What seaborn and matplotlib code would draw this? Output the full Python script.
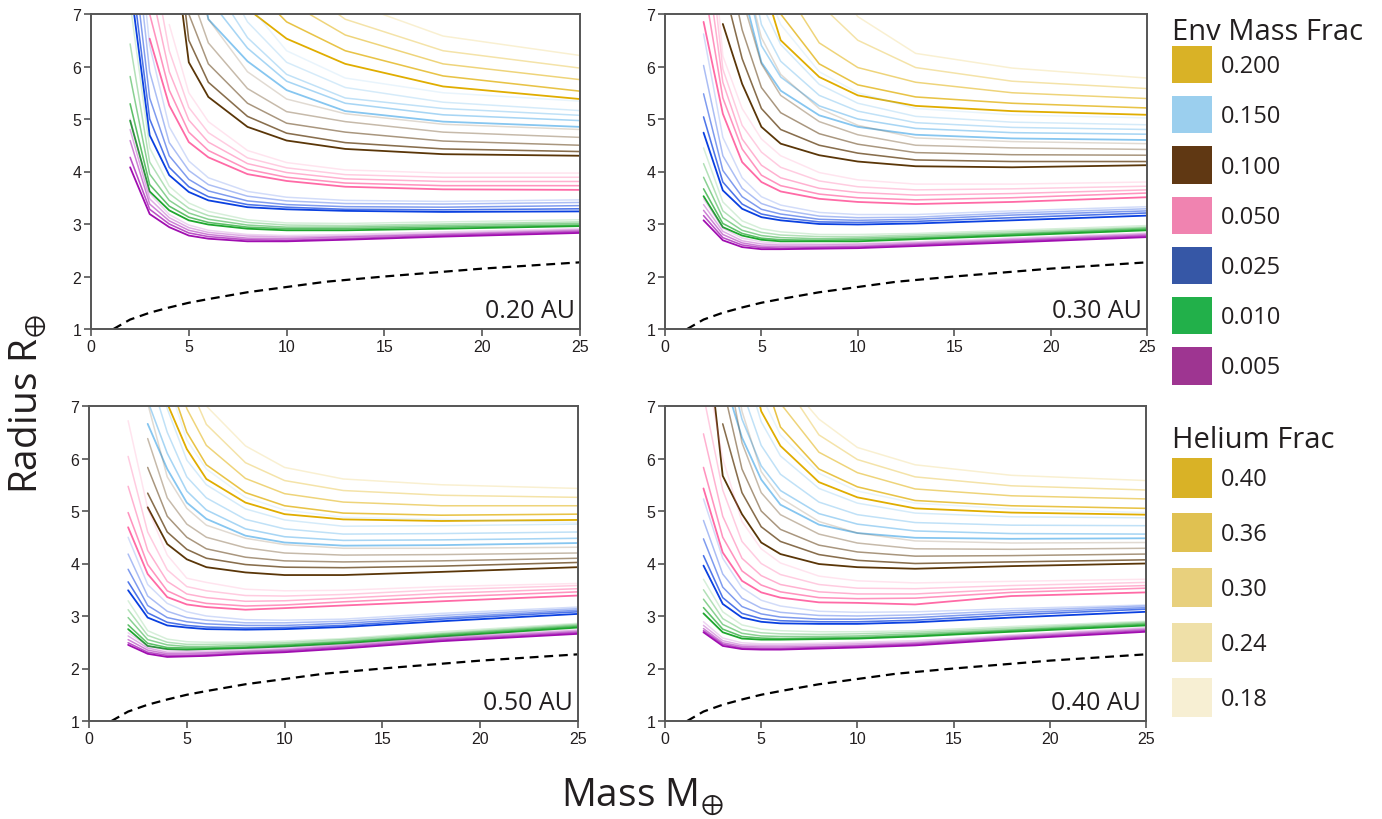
import numpy as np
import pandas as pd
import matplotlib
matplotlib.use('Agg')
import matplotlib.pyplot as plt
from matplotlib.patches import Patch
import seaborn as sns

nan = np.nan

# mass grid (Earth masses) the curves are read at
masses = [2, 3, 4, 5, 6, 8, 10, 13, 18, 25]
helium_fracs = ['0.40', '0.36', '0.30', '0.24', '0.18']
env_fracs = ['0.200', '0.150', '0.100', '0.050', '0.025', '0.010', '0.005']

# bare rocky core (dashed)
core_mass = [1.15, 2, 3, 4, 5, 6, 8, 10, 12, 15, 20, 25]
core_radius = [1.0, 1.18, 1.31, 1.41, 1.50, 1.57, 1.70, 1.80, 1.90, 2.0, 2.15, 2.27]

# ---- 0.20 AU : rows are helium 0.40, 0.36, 0.30, 0.24, 0.18 ----
r20_e200 = [[nan, nan, nan, nan, 8.6, 7.1, 6.53, 6.05, 5.62, 5.38],
            [nan, nan, nan, nan, 9.2, 7.6, 6.85, 6.3, 5.82, 5.53],
            [nan, nan, nan, nan, nan, 8.1, 7.25, 6.6, 6.05, 5.75],
            [nan, nan, nan, nan, nan, 8.7, 7.7, 6.9, 6.3, 5.97],
            [nan, nan, nan, nan, nan, nan, 8.2, 7.25, 6.58, 6.21]]
r20_e150 = [[nan, nan, nan, 9.0, 6.9, 6.1, 5.55, 5.15, 4.95, 4.85],
            [nan, nan, nan, 9.6, 7.3, 6.35, 5.72, 5.3, 5.08, 4.97],
            [nan, nan, nan, nan, 7.7, 6.55, 5.85, 5.4, 5.2, 5.07],
            [nan, nan, nan, nan, 8.2, 6.85, 6.08, 5.6, 5.32, 5.16],
            [nan, nan, nan, nan, 8.8, 7.2, 6.3, 5.78, 5.5, 5.34]]
r20_e100 = [[nan, nan, 9.0, 6.08, 5.42, 4.85, 4.59, 4.43, 4.33, 4.30],
            [nan, nan, 9.6, 6.5, 5.7, 5.05, 4.73, 4.55, 4.43, 4.38],
            [nan, nan, 10.3, 7.0, 6.05, 5.3, 4.92, 4.75, 4.58, 4.50],
            [nan, nan, nan, 7.5, 6.45, 5.58, 5.14, 4.95, 4.75, 4.65],
            [nan, nan, nan, 8.1, 6.9, 5.9, 5.38, 5.1, 4.9, 4.80]]
r20_e050 = [[nan, 6.53, 5.26, 4.56, 4.27, 3.95, 3.82, 3.71, 3.66, 3.65],
            [nan, 7.0, 5.55, 4.75, 4.40, 4.04, 3.89, 3.78, 3.73, 3.73],
            [nan, 7.6, 5.9, 4.98, 4.56, 4.15, 3.98, 3.86, 3.81, 3.81],
            [nan, 8.3, 6.3, 5.22, 4.74, 4.26, 4.07, 3.94, 3.89, 3.89],
            [nan, nan, 6.8, 5.5, 4.95, 4.4, 4.17, 4.03, 3.97, 3.97]]
r20_e025 = [[7.6, 4.69, 3.93, 3.61, 3.45, 3.32, 3.28, 3.25, 3.23, 3.24],
            [8.0, 5.0, 4.08, 3.71, 3.52, 3.37, 3.32, 3.28, 3.27, 3.29],
            [8.6, 5.4, 4.3, 3.85, 3.63, 3.44, 3.37, 3.33, 3.32, 3.35],
            [9.3, 5.9, 4.55, 4.02, 3.75, 3.53, 3.44, 3.39, 3.38, 3.41],
            [10.0, 6.4, 4.85, 4.2, 3.88, 3.62, 3.51, 3.45, 3.43, 3.46]]
r20_e010 = [[4.97, 3.62, 3.26, 3.07, 2.99, 2.91, 2.88, 2.88, 2.91, 2.96],
            [5.29, 3.75, 3.34, 3.13, 3.03, 2.94, 2.91, 2.91, 2.94, 2.98],
            [5.81, 3.95, 3.45, 3.21, 3.09, 2.98, 2.94, 2.94, 2.97, 3.01],
            [6.43, 4.18, 3.58, 3.30, 3.16, 3.03, 2.98, 2.97, 3.00, 3.04],
            [7.2, 4.45, 3.72, 3.40, 3.24, 3.08, 3.02, 3.01, 3.04, 3.08]]
r20_e005 = [[4.08, 3.19, 2.94, 2.78, 2.72, 2.67, 2.67, 2.70, 2.76, 2.83],
            [4.27, 3.28, 3.00, 2.83, 2.76, 2.70, 2.69, 2.72, 2.78, 2.85],
            [4.59, 3.38, 3.06, 2.88, 2.80, 2.73, 2.72, 2.75, 2.80, 2.87],
            [4.80, 3.48, 3.12, 2.93, 2.84, 2.77, 2.75, 2.77, 2.82, 2.89],
            [5.00, 3.58, 3.18, 2.98, 2.88, 2.80, 2.78, 2.80, 2.85, 2.91]]

# ---- 0.30 AU ----
r30_e200 = [[nan, nan, nan, 7.7, 6.5, 5.8, 5.45, 5.25, 5.15, 5.08],
            [nan, nan, nan, 8.3, 7.0, 6.05, 5.65, 5.42, 5.3, 5.21],
            [nan, nan, nan, nan, 7.6, 6.45, 5.98, 5.7, 5.5, 5.39],
            [nan, nan, nan, nan, nan, 7.2, 6.5, 5.98, 5.72, 5.58],
            [nan, nan, nan, nan, nan, 7.9, 6.95, 6.25, 5.97, 5.78]]
r30_e150 = [[nan, nan, 7.5, 6.08, 5.54, 5.07, 4.85, 4.7, 4.63, 4.6],
            [nan, nan, 8.0, 6.4, 5.8, 5.25, 5.0, 4.82, 4.74, 4.71],
            [nan, nan, 8.6, 6.8, 6.1, 5.45, 5.15, 4.93, 4.84, 4.8],
            [nan, nan, nan, 7.2, 6.42, 5.66, 5.3, 5.05, 4.94, 4.89],
            [nan, nan, nan, 7.7, 6.8, 5.9, 5.5, 5.2, 5.08, 5.02]]
r30_e100 = [[nan, 6.81, 5.67, 4.85, 4.53, 4.31, 4.19, 4.10, 4.08, 4.12],
            [nan, 7.6, 6.15, 5.2, 4.8, 4.5, 4.35, 4.22, 4.19, 4.19],
            [nan, 8.4, 6.7, 5.6, 5.12, 4.72, 4.52, 4.36, 4.32, 4.31],
            [nan, nan, 7.3, 6.05, 5.45, 4.95, 4.7, 4.5, 4.45, 4.42],
            [nan, nan, 8.0, 6.55, 5.85, 5.2, 4.88, 4.64, 4.57, 4.53]]
r30_e050 = [[6.85, 5.1, 4.18, 3.80, 3.62, 3.48, 3.42, 3.38, 3.42, 3.51],
            [7.6, 5.4, 4.43, 3.93, 3.73, 3.57, 3.50, 3.46, 3.50, 3.59],
            [8.4, 5.7, 4.62, 4.12, 3.88, 3.68, 3.60, 3.55, 3.58, 3.65],
            [9.3, 5.95, 4.88, 4.37, 4.08, 3.82, 3.71, 3.65, 3.67, 3.72],
            [10.3, 6.2, 5.2, 4.62, 4.30, 3.98, 3.84, 3.76, 3.76, 3.80]]
r30_e025 = [[4.74, 3.64, 3.29, 3.13, 3.07, 3.00, 2.99, 3.01, 3.07, 3.16],
            [5.04, 3.80, 3.38, 3.19, 3.12, 3.04, 3.03, 3.05, 3.12, 3.21],
            [5.48, 4.02, 3.52, 3.28, 3.19, 3.09, 3.07, 3.09, 3.17, 3.25],
            [6.02, 4.30, 3.68, 3.39, 3.27, 3.15, 3.12, 3.13, 3.21, 3.29],
            [6.62, 4.65, 3.88, 3.52, 3.36, 3.22, 3.18, 3.18, 3.25, 3.33]]
r30_e010 = [[3.53, 2.94, 2.78, 2.70, 2.67, 2.67, 2.67, 2.71, 2.78, 2.88],
            [3.67, 3.01, 2.82, 2.73, 2.70, 2.69, 2.70, 2.73, 2.80, 2.90],
            [3.89, 3.12, 2.88, 2.78, 2.74, 2.72, 2.73, 2.76, 2.82, 2.92],
            [4.15, 3.25, 2.96, 2.84, 2.79, 2.76, 2.76, 2.79, 2.85, 2.94],
            [4.45, 3.42, 3.06, 2.91, 2.85, 2.80, 2.80, 2.82, 2.88, 2.97]]
r30_e005 = [[3.07, 2.69, 2.56, 2.52, 2.52, 2.53, 2.54, 2.58, 2.65, 2.75],
            [3.16, 2.74, 2.60, 2.55, 2.54, 2.55, 2.56, 2.60, 2.67, 2.77],
            [3.26, 2.80, 2.64, 2.58, 2.57, 2.57, 2.58, 2.62, 2.69, 2.79],
            [3.37, 2.86, 2.68, 2.62, 2.60, 2.60, 2.61, 2.64, 2.71, 2.81],
            [3.48, 2.92, 2.73, 2.66, 2.63, 2.62, 2.63, 2.66, 2.73, 2.83]]

# ---- 0.50 AU ----
r50_e200 = [[nan, nan, 7.05, 6.18, 5.61, 5.16, 4.94, 4.84, 4.81, 4.83],
            [nan, nan, 7.6, 6.5, 5.88, 5.35, 5.1, 4.96, 4.92, 4.94],
            [nan, nan, 8.3, 6.95, 6.25, 5.62, 5.33, 5.17, 5.1, 5.10],
            [nan, nan, nan, 7.5, 6.65, 5.92, 5.58, 5.39, 5.3, 5.26],
            [nan, nan, nan, 8.1, 7.0, 6.24, 5.83, 5.61, 5.5, 5.43]]
r50_e150 = [[nan, 6.66, 5.8, 5.16, 4.85, 4.53, 4.4, 4.34, 4.35, 4.39],
            [nan, 7.1, 6.1, 5.38, 5.02, 4.66, 4.51, 4.44, 4.45, 4.48],
            [nan, 7.7, 6.5, 5.65, 5.25, 4.84, 4.66, 4.56, 4.57, 4.60],
            [nan, 8.4, 6.95, 5.97, 5.5, 5.04, 4.83, 4.71, 4.72, 4.75],
            [nan, nan, 7.5, 6.35, 5.8, 5.26, 5.02, 4.88, 4.84, 4.78]]
r50_e100 = [[nan, 5.07, 4.37, 4.08, 3.93, 3.83, 3.78, 3.78, 3.84, 3.93],
            [nan, 5.34, 4.6, 4.27, 4.1, 3.98, 3.93, 3.92, 3.95, 4.02],
            [nan, 5.83, 4.9, 4.5, 4.28, 4.12, 4.05, 4.03, 4.05, 4.10],
            [nan, 6.38, 5.25, 4.75, 4.5, 4.3, 4.2, 4.16, 4.17, 4.20],
            [nan, 7.05, 5.65, 5.05, 4.73, 4.48, 4.36, 4.29, 4.29, 4.31]]
r50_e050 = [[4.69, 3.8, 3.36, 3.22, 3.17, 3.12, 3.15, 3.20, 3.28, 3.39],
            [4.97, 3.98, 3.48, 3.31, 3.24, 3.19, 3.21, 3.27, 3.36, 3.46],
            [5.47, 4.25, 3.66, 3.42, 3.35, 3.28, 3.29, 3.34, 3.43, 3.52],
            [6.04, 4.6, 3.88, 3.56, 3.48, 3.39, 3.38, 3.41, 3.5, 3.58],
            [6.72, 5.05, 4.16, 3.72, 3.64, 3.51, 3.48, 3.49, 3.56, 3.62]]
r50_e025 = [[3.49, 2.97, 2.82, 2.78, 2.75, 2.74, 2.75, 2.79, 2.90, 3.04],
            [3.65, 3.06, 2.88, 2.82, 2.79, 2.77, 2.78, 2.82, 2.94, 3.08],
            [3.89, 3.2, 2.97, 2.89, 2.85, 2.82, 2.82, 2.86, 2.97, 3.11],
            [4.18, 3.38, 3.09, 2.97, 2.92, 2.87, 2.87, 2.90, 3.01, 3.14],
            [4.5, 3.6, 3.24, 3.08, 3.0, 2.93, 2.92, 2.94, 3.05, 3.17]]
r50_e010 = [[2.75, 2.43, 2.37, 2.36, 2.37, 2.39, 2.42, 2.48, 2.61, 2.78],
            [2.83, 2.48, 2.40, 2.39, 2.39, 2.41, 2.44, 2.50, 2.63, 2.80],
            [2.97, 2.55, 2.45, 2.42, 2.42, 2.44, 2.46, 2.52, 2.65, 2.82],
            [3.12, 2.63, 2.50, 2.46, 2.46, 2.47, 2.49, 2.55, 2.67, 2.84],
            [3.29, 2.72, 2.56, 2.51, 2.50, 2.50, 2.52, 2.57, 2.70, 2.86]]
r50_e005 = [[2.45, 2.28, 2.22, 2.23, 2.24, 2.28, 2.31, 2.38, 2.52, 2.66],
            [2.49, 2.31, 2.25, 2.25, 2.26, 2.30, 2.33, 2.40, 2.54, 2.68],
            [2.55, 2.35, 2.28, 2.28, 2.29, 2.32, 2.35, 2.42, 2.56, 2.70],
            [2.62, 2.39, 2.31, 2.31, 2.31, 2.34, 2.37, 2.44, 2.58, 2.72],
            [2.68, 2.43, 2.35, 2.34, 2.34, 2.37, 2.40, 2.46, 2.60, 2.74]]

# ---- 0.40 AU ----
r40_e200 = [[nan, nan, 8.5, 6.9, 6.24, 5.55, 5.26, 5.05, 4.97, 4.93],
            [nan, nan, nan, 7.7, 6.6, 5.8, 5.46, 5.2, 5.1, 5.05],
            [nan, nan, nan, nan, 7.05, 6.12, 5.73, 5.42, 5.29, 5.23],
            [nan, nan, nan, nan, 7.55, 6.45, 5.98, 5.65, 5.48, 5.4],
            [nan, nan, nan, nan, 7.6, 6.75, 6.21, 5.88, 5.68, 5.58]]
r40_e150 = [[nan, 7.6, 6.4, 5.6, 5.12, 4.74, 4.58, 4.49, 4.47, 4.48],
            [nan, 8.2, 6.75, 5.86, 5.39, 4.95, 4.75, 4.62, 4.57, 4.56],
            [nan, nan, 7.3, 6.25, 5.7, 5.17, 4.93, 4.78, 4.73, 4.72],
            [nan, nan, 7.9, 6.7, 6.05, 5.43, 5.15, 4.96, 4.89, 4.87],
            [nan, nan, nan, 7.2, 6.45, 5.72, 5.38, 5.15, 5.04, 4.97]]
r40_e100 = [[9.0, 5.67, 4.94, 4.4, 4.18, 3.99, 3.93, 3.9, 3.95, 4.00],
            [nan, 6.66, 5.35, 4.7, 4.42, 4.17, 4.06, 4.0, 4.03, 4.07],
            [nan, 7.4, 5.8, 5.0, 4.65, 4.35, 4.22, 4.14, 4.15, 4.18],
            [nan, 8.2, 6.3, 5.35, 4.93, 4.56, 4.39, 4.28, 4.27, 4.29],
            [nan, 9.0, 6.9, 5.75, 5.25, 4.8, 4.58, 4.43, 4.39, 4.40]]
r40_e050 = [[5.43, 4.21, 3.67, 3.45, 3.35, 3.26, 3.25, 3.22, 3.38, 3.45],
            [5.83, 4.5, 3.86, 3.59, 3.46, 3.35, 3.33, 3.34, 3.45, 3.53],
            [6.47, 4.9, 4.1, 3.77, 3.6, 3.46, 3.42, 3.42, 3.51, 3.58],
            [7.2, 5.4, 4.42, 4.0, 3.79, 3.6, 3.53, 3.52, 3.58, 3.64],
            [8.0, 6.0, 4.8, 4.28, 4.01, 3.76, 3.67, 3.63, 3.66, 3.70]]
r40_e025 = [[3.96, 3.23, 2.97, 2.89, 2.86, 2.85, 2.85, 2.88, 2.97, 3.08],
            [4.15, 3.35, 3.05, 2.95, 2.91, 2.89, 2.89, 2.92, 3.02, 3.13],
            [4.47, 3.55, 3.18, 3.04, 2.98, 2.94, 2.94, 2.97, 3.06, 3.16],
            [4.82, 3.80, 3.34, 3.15, 3.07, 3.01, 3.00, 3.02, 3.10, 3.19],
            [5.23, 4.10, 3.54, 3.30, 3.19, 3.09, 3.07, 3.08, 3.14, 3.21]]
r40_e010 = [[3.05, 2.69, 2.57, 2.55, 2.55, 2.56, 2.57, 2.61, 2.70, 2.82],
            [3.16, 2.75, 2.61, 2.58, 2.57, 2.58, 2.59, 2.63, 2.72, 2.84],
            [3.32, 2.84, 2.67, 2.62, 2.61, 2.61, 2.62, 2.66, 2.74, 2.86],
            [3.50, 2.95, 2.74, 2.68, 2.66, 2.65, 2.66, 2.69, 2.77, 2.88],
            [3.70, 3.08, 2.83, 2.75, 2.72, 2.70, 2.70, 2.72, 2.80, 2.90]]
r40_e005 = [[2.69, 2.43, 2.37, 2.36, 2.36, 2.38, 2.40, 2.44, 2.56, 2.70],
            [2.72, 2.46, 2.39, 2.38, 2.38, 2.40, 2.42, 2.46, 2.58, 2.72],
            [2.76, 2.49, 2.42, 2.41, 2.41, 2.42, 2.44, 2.48, 2.60, 2.74],
            [2.82, 2.53, 2.45, 2.44, 2.44, 2.45, 2.47, 2.50, 2.62, 2.76],
            [2.89, 2.58, 2.49, 2.47, 2.47, 2.48, 2.50, 2.53, 2.64, 2.78]]

# colours
line_colors = ['#e0ad00', '#86c6f0', '#5a3608', '#ff6aa6', '#0a40e0', '#1ea62e', '#a00eb0']
key_colors = ['#d9b226', '#9bcfee', '#603813', '#f083b0', '#3657a6', '#22b04a', '#9e3591']
he_alpha = [1.0, 0.72, 0.52, 0.34, 0.18]
he_lw = [1.3, 1.15, 1.1, 1.1, 1.1]
text_col = '#231f20'
frame_col = '#555555'

sns.set_style('ticks')
plt.rcParams['font.family'] = ['Open Sans', 'DejaVu Sans']
plt.rcParams['mathtext.fontset'] = 'custom'
plt.rcParams['mathtext.rm'] = 'Open Sans'
plt.rcParams['mathtext.fallback'] = 'stixsans'

fig = plt.figure(figsize=(13.82, 8.2), dpi=100)

W, H = 1382, 820
def px_rect(left, top, right, bottom):
    return [left / W, 1 - bottom / H, (right - left) / W, (bottom - top) / H]

panels = [
    ('0.20 AU', px_rect(91, 15, 580, 330),
     [r20_e200, r20_e150, r20_e100, r20_e050, r20_e025, r20_e010, r20_e005]),
    ('0.30 AU', px_rect(665, 15, 1147, 330),
     [r30_e200, r30_e150, r30_e100, r30_e050, r30_e025, r30_e010, r30_e005]),
    ('0.50 AU', px_rect(89, 407, 578, 722),
     [r50_e200, r50_e150, r50_e100, r50_e050, r50_e025, r50_e010, r50_e005]),
    ('0.40 AU', px_rect(665, 407, 1146, 722),
     [r40_e200, r40_e150, r40_e100, r40_e050, r40_e025, r40_e010, r40_e005]),
]

for label, rect, groups in panels:
    ax = fig.add_axes(rect)
    for rows, color in zip(groups, line_colors):
        # light (low helium) first, dark on top
        for i in reversed(range(len(helium_fracs))):
            df = pd.DataFrame({'mass': masses, 'radius': rows[i]}).dropna()
            sns.lineplot(data=df, x='mass', y='radius', ax=ax, color=color,
                         alpha=he_alpha[i], lw=he_lw[i], errorbar=None)
    sns.lineplot(x=core_mass, y=core_radius, ax=ax, color='black', lw=1.6,
                 linestyle=(0, (4, 2.6)), errorbar=None)
    ax.set_xlim(0, 25)
    ax.set_ylim(1, 7)
    ax.set_xticks(range(0, 26, 5))
    ax.set_yticks(range(1, 8))
    ax.set_xlabel('')
    ax.set_ylabel('')
    for s in ax.spines.values():
        s.set_visible(True)
        s.set_color(frame_col)
        s.set_linewidth(1.4)
    ax.tick_params(direction='out', length=5, width=1.2, color=frame_col,
                   labelsize=11.5, labelcolor=text_col, pad=2)
    for t in ax.get_xticklabels() + ax.get_yticklabels():
        t.set_fontfamily('Liberation Sans')
    ax.text(0.99, 0.02, label, transform=ax.transAxes, ha='right', va='bottom',
            fontsize=18, color=text_col)

# legends (titles drawn as plain text so the gap matches)
fig.text(1172 / W, 1 - 40 / H, 'Env Mass Frac', ha='left', va='baseline',
         fontsize=21, color=text_col)
env_handles = [Patch(facecolor=c, edgecolor='none') for c in key_colors]
leg1 = fig.legend(env_handles, env_fracs, loc='upper left',
                  bbox_to_anchor=(1172 / W, 1 - 47 / H), frameon=False,
                  fontsize=17, handlelength=1.7, handleheight=2.05, labelspacing=0.55,
                  handletextpad=0.35, borderpad=0, borderaxespad=0)
for t in leg1.get_texts():
    t.set_color(text_col)

fig.text(1172 / W, 1 - 448 / H, 'Helium Frac', ha='left', va='baseline',
         fontsize=21, color=text_col)
he_handles = [Patch(facecolor=key_colors[0], alpha=a, edgecolor='none')
              for a in [1.0, 0.8, 0.6, 0.4, 0.2]]
leg2 = fig.legend(he_handles, helium_fracs, loc='upper left',
                  bbox_to_anchor=(1172 / W, 1 - 459 / H), frameon=False,
                  fontsize=17, handlelength=1.7, handleheight=2.2, labelspacing=0.65,
                  handletextpad=0.35, borderpad=0, borderaxespad=0)
for t in leg2.get_texts():
    t.set_color(text_col)

fig.text(28 / W, 1 - 404 / H, r'Radius $\mathrm{R}_{\oplus}$', rotation=90, ha='center',
         va='center', fontsize=28, color=text_col)
fig.text(642 / W, 1 - 797 / H, r'Mass $\mathrm{M}_{\oplus}$', ha='center', va='center',
         fontsize=28, color=text_col)

fig.savefig('out.png', dpi=100)
